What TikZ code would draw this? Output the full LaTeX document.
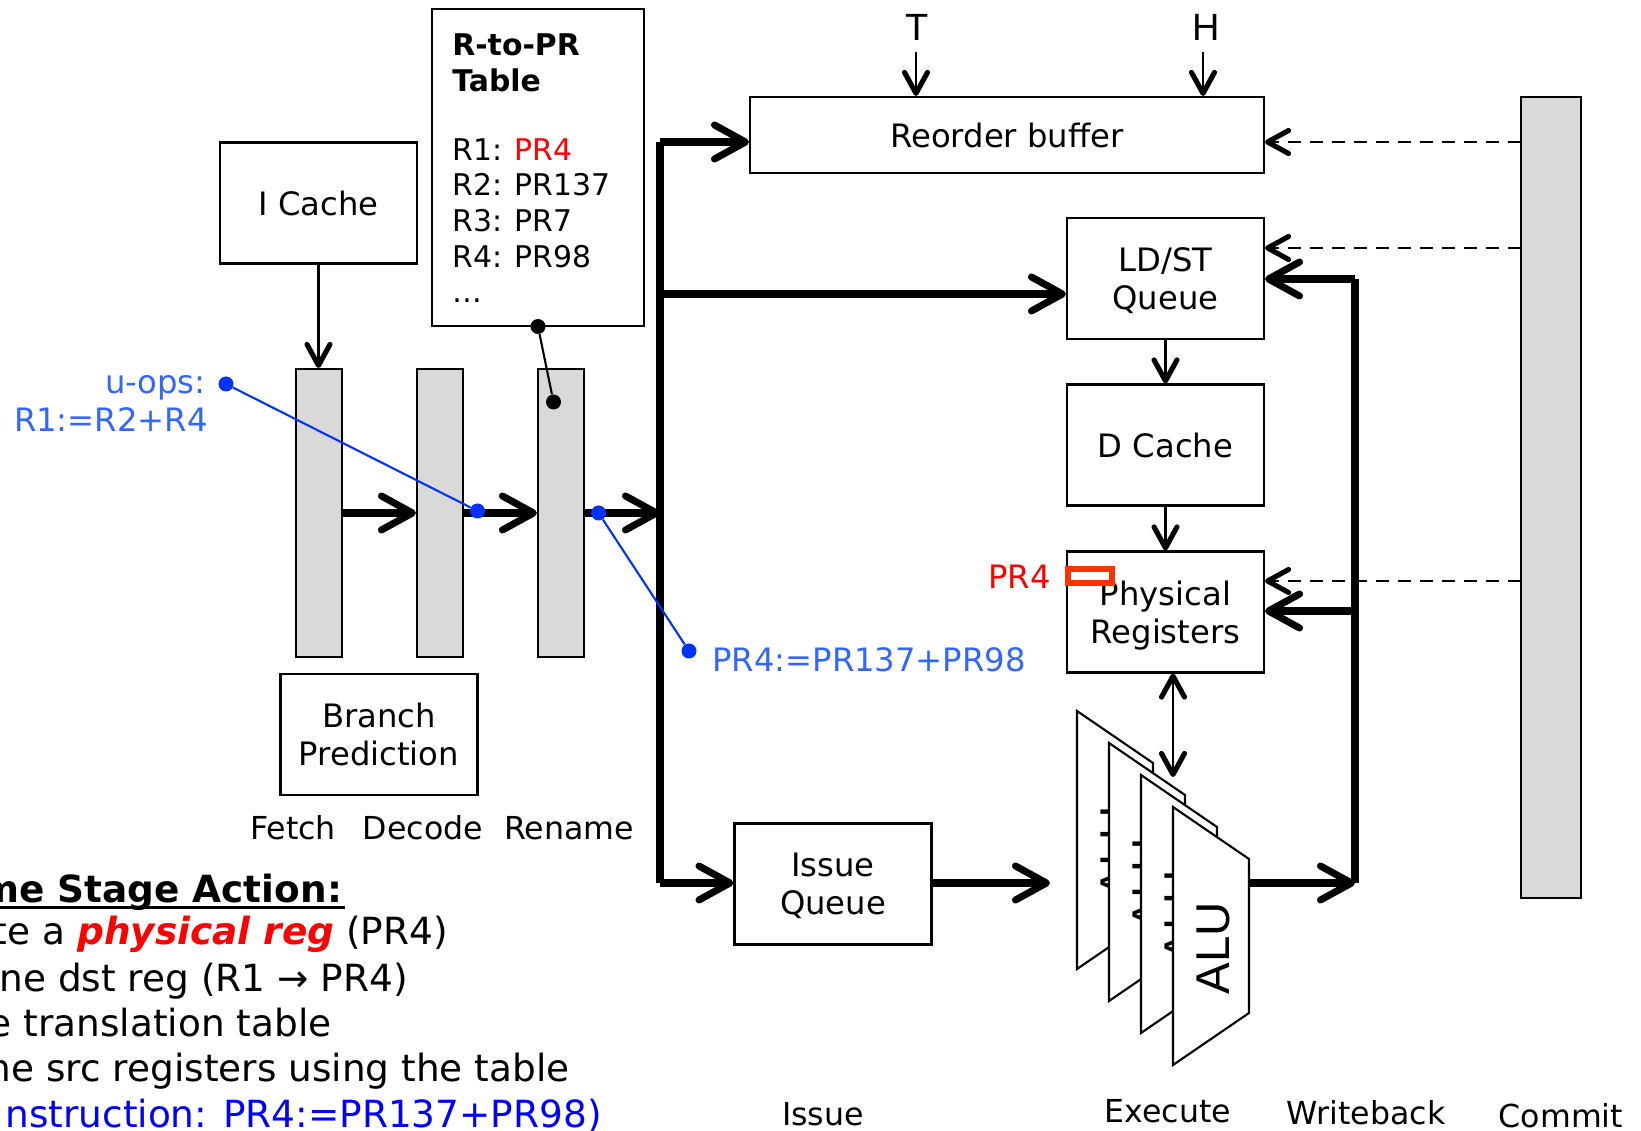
\documentclass[tikz,border=0pt]{standalone}
\usepackage{fontspec}
\setmainfont{DejaVu Sans}
\newfontfamily\alufont{Liberation Sans}
\usetikzlibrary{arrows.meta,positioning}
\definecolor{ink}{HTML}{000000}
\definecolor{latch}{HTML}{D9D9D9}
\definecolor{uop}{HTML}{3366FF}
\definecolor{dotblue}{HTML}{0033FF}
\definecolor{markred}{HTML}{FF3300}
\definecolor{instblue}{HTML}{0000FF}
\newcommand{\ulbold}[1]{\vtop{\hbox{\bfseries\smash{#1}\kern1.5pt}\kern1.6pt\hrule height 1.9pt}}
\tikzset{
  basebox/.style={draw=ink,fill=white,line width=1.2pt,align=center,inner sep=0pt,text depth=0pt,font=\fontsize{18.35}{21.5}\selectfont},
  unit/.style={basebox,minimum width=3.94cm,minimum height=2.42cm},
  latchbar/.style={draw=ink,fill=latch,line width=1.2pt,inner sep=0pt,minimum width=0.92cm,minimum height=5.76cm},
  label/.style={inner sep=0pt,font=\fontsize{18.35}{20.3}\selectfont,text=ink},
  stagelbl/.style={label,font=\fontsize{18}{20.3}\selectfont,text height=14pt,text depth=0pt},
  tablelbl/.style={label,anchor=base west,align=left,font=\fontsize{17}{20.3}\selectfont},
  action/.style={inner sep=0pt,anchor=base east,font=\fontsize{21.3}{24}\selectfont,text=ink},
  wire/.style={-{Straight Barb[round,length=0.42cm,width=0.46cm,line width=2.9pt]},line width=1.15pt,draw=ink},
  dashwire/.style={wire,dash pattern=on 0.26cm off 0.18cm},
  biwire/.style={{Straight Barb[round,length=0.42cm,width=0.46cm,line width=2.9pt]}-{Straight Barb[round,length=0.42cm,width=0.46cm,line width=2.9pt]},line width=1.15pt,draw=ink},
  fatwire/.style={-{Straight Barb[round,length=0.62cm,width=0.68cm,line width=4pt]},line width=4pt,draw=ink},
  bus/.style={line width=4pt,draw=ink},
  dot/.style={circle,fill=ink,inner sep=0pt,minimum size=0.3cm},
  bluedot/.style={dot,fill=dotblue},
  bluewire/.style={line width=1.2pt,draw=dotblue}
}
\begin{document}
\begin{tikzpicture}[x=0.02cm,y=-0.02cm]
  \useasboundingbox (0,0) rectangle (1641,1131);

  % front end
  \node[unit] (icache) at (318.5,203) {I Cache};
  \node[latchbar] (fetch) at (319,513) {};
  \node[latchbar] (decode) at (440,513) {};
  \node[latchbar] (rename) at (561,513) {};
  \node[unit] (bpred) at (379,734.5) {Branch\\Prediction};
  \node[stagelbl] (fetchlbl) at (293,827) {Fetch};
  \node[stagelbl] (decodelbl) at (423,827) {Decode};
  \node[stagelbl] (renamelbl) at (569,827) {Rename};

  \node[basebox,minimum width=4.24cm,minimum height=6.35cm] (table) at (538,167.5) {};
  \node[tablelbl] (tabletxt) at (452,303) {\textbf{R-to-PR}\\\textbf{Table}\\[19pt]R1: \textcolor{red}{PR4}\\R2: PR137\\R3: PR7\\R4: PR98\\…};

  \node[label,anchor=base east,text=uop] (uops) at (206,394) {u-ops:};
  \node[label,anchor=base east,text=uop] (uopexpr) at (208,432) {R1:=R2+R4};
  \node[label,anchor=base west,text=uop] (prexpr) at (712,672) {PR4:=PR137+PR98};

  % back end
  \node[basebox,minimum width=10.28cm,minimum height=1.52cm] (rob) at (1007,135) {Reorder buffer};
  \node[unit] (ldst) at (1165.5,278.5) {LD/ST\\Queue};
  \node[unit] (dcache) at (1165.5,445) {D Cache};
  \node[unit] (regs) at (1165.5,612) {Physical\\Registers};
  \node[unit] (iq) at (833,884) {Issue\\Queue};
  \node[draw=ink,fill=latch,line width=1.2pt,inner sep=0pt,minimum width=1.2cm,minimum height=16.02cm] (commit) at (1551,497.5) {};
  \node[label,font=\alufont\fontsize{21.6}{22}\selectfont] (tptr) at (917,27) {T};
  \node[label,font=\alufont\fontsize{21.6}{22}\selectfont] (hptr) at (1206,27) {H};
  \node[label,anchor=base east,text=red] (prfour) at (1051,589) {PR4};
  \node[draw=markred,line width=3.2pt,inner sep=0pt,minimum width=0.88cm,minimum height=0.28cm] (prslot) at (1090,576) {};

  \node[stagelbl] (issuelbl) at (823,1113) {Issue};
  \node[stagelbl] (execlbl) at (1168,1110) {Execute};
  \node[stagelbl] (wblbl) at (1366,1112) {Writeback};
  \node[stagelbl] (commitlbl) at (1561,1115) {Commit};

  % ALUs
  \foreach \off in {96,64,32,0}{
    \draw[draw=ink,fill=white,line width=1.2pt] (1173-\off,807-\off) -- (1249-\off,859-\off) -- (1249-\off,1013-\off) -- (1173-\off,1065-\off) -- cycle;
    \node[inner sep=0pt,rotate=90,font=\alufont\fontsize{27}{27}\selectfont,text=ink] at (1213.5-\off,948-\off) {ALU};
  }

  \coordinate (alutop) at (1173,777);
  \coordinate (aluout) at (1249,883);
  \coordinate (iqout) at (1050,883);
  \coordinate (thead) at (916,52);
  \coordinate (hhead) at (1203,52);
  \coordinate (sbtop) at (660,142);
  \coordinate (sbmid) at (660,294);
  \coordinate (sbin) at (660,513);
  \coordinate (sbbot) at (660,883);
  \coordinate (wbtop) at (1355,279);
  \coordinate (wbmid) at (1355,611);
  \coordinate (wbbot) at (1355,883);
  \coordinate (dashrob) at (1521,142);
  \coordinate (dashldst) at (1521,248);
  \coordinate (dashregs) at (1521,581);

  % connectors
  \draw[wire] (icache) -- (icache.south |- fetch.north);
  \draw[wire] (thead) -- (thead |- rob.north);
  \draw[wire] (hhead) -- (hhead |- rob.north);
  \draw[wire] (ldst) -- (dcache);
  \draw[wire] (dcache) -- (regs);
  \draw[biwire] (alutop |- regs.south) -- (alutop);

  \draw[fatwire] (fetch) -- (decode);
  \draw[fatwire] (decode) -- (rename);
  \draw[fatwire] (rename) -- (sbin);
  \draw[bus] (sbtop) -- (sbbot);
  \draw[fatwire] (sbtop) -- (sbtop -| rob.west);
  \draw[fatwire] (sbmid) -- (sbmid -| ldst.west);
  \draw[fatwire] (sbbot) -- (sbbot -| iq.west);
  \draw[fatwire] (iq.east |- iqout) -- (iqout);
  \draw[fatwire] (aluout) -- (wbbot);
  \draw[bus] (wbbot) -- (wbtop);
  \draw[fatwire] (wbtop) -- (wbtop -| ldst.east);
  \draw[fatwire] (wbmid) -- (wbmid -| regs.east);

  \draw[dashwire] (dashrob) -- (dashrob -| rob.east);
  \draw[dashwire] (dashldst) -- (dashldst -| ldst.east);
  \draw[dashwire] (dashregs) -- (dashregs -| regs.east);

  % rename pointers
  \node[dot] (tblpin) at (538,326.5) {};
  \node[dot] (renpin) at (553.5,402) {};
  \draw[line width=1.2pt,draw=ink] (tblpin) -- (renpin);

  \node[bluedot] (uopa) at (226,384) {};
  \node[bluedot] (uopb) at (477.5,511) {};
  \node[bluedot] (pra) at (598.6,513) {};
  \node[bluedot] (prb) at (689,651) {};
  \draw[bluewire] (uopa) -- (uopb);
  \draw[bluewire] (pra) -- (prb);

  % rename stage text, cut by the page edge
  \node[action] (acthead) at (345,903) {\ulbold{me Stage Action:}};
  \node[action] (actone) at (448,944) {te a \textcolor{red}{\bfseries\itshape physical reg} (PR4)};
  \node[action] (acttwo) at (408,991) {ne dst reg (R1 → PR4)};
  \node[action] (actthree) at (332,1036) {e translation table};
  \node[action] (actfour) at (570,1081) {ne src registers using the table};
  \node[action,text=instblue] (actfive) at (602,1127) {nstruction: PR4:=PR137+PR98)};
\end{tikzpicture}
\end{document}
